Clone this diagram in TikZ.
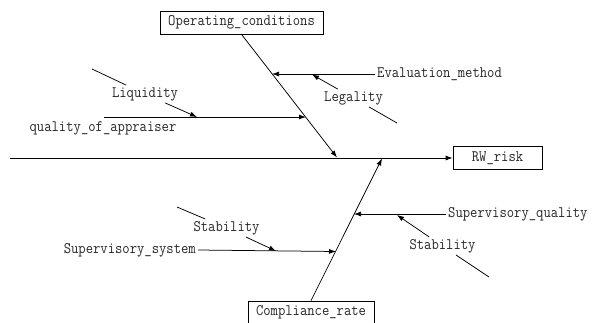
\documentclass[tikz,border=0pt]{standalone}
\usepackage{fontspec}
\setmonofont[FakeStretch=0.89]{Latin Modern Mono}
\usetikzlibrary{arrows.meta,calc}
\begin{document}
\begin{tikzpicture}[x=1pt,y=-1pt,
  every node/.style={font=\ttfamily\fontsize{16pt}{18pt}\selectfont, text=black!85},
  bone/.style={line width=0.75pt, draw=black},
  arr/.style={bone, -{Latex[length=7pt,width=5pt]}},
  cbox/.style={draw, line width=0.75pt, minimum height=23pt, inner sep=0pt},
  lbl/.style={inner sep=2pt},
]
\useasboundingbox (0,0) rectangle (604,322);
% boxes
\node[cbox, minimum width=163pt] (op) at (241.5,22.5) {Operating\_conditions};
\node[cbox, minimum width=126pt] (cr) at (311,312.5) {Compliance\_rate};
\node[cbox, minimum width=89pt] (rw) at (497.5,158) {RW\_risk};
% spine
\coordinate (s0) at (10,158);
\draw[arr] (s0) -- (rw.west);
% diagonals
\coordinate (t1) at (337,157.5);
\coordinate (t2) at (382,158.5);
\draw[arr] (op.south) -- (t1);
\draw[arr] (cr.north) -- (t2);
% upper branches
\node[lbl, anchor=west] (ev) at (375,74) {Evaluation\_method};
\coordinate (evt) at (272,74);
\draw[arr] (ev.west) -- (evt);
\coordinate (q0) at (104,117);
\coordinate (qt) at (306,117);
\draw[arr] (q0) -- (qt);
\node[lbl] (qa) at (103,128) {quality\_of\_appraiser};
% Liquidity
\coordinate (li0) at (92,69);
\coordinate (lit) at (197,117);
\node[lbl] (li) at (145,94) {Liquidity};
\draw[bone] (li0) -- (li);
\draw[arr] (li) -- (lit);
% Legality
\coordinate (le0) at (397,123);
\coordinate (let) at (312,74.5);
\node[lbl] (le) at (353.5,98) {Legality};
\draw[bone] (le0) -- (le);
\draw[arr] (le) -- (let);
% lower branches
\node[lbl, anchor=west] (sq) at (446,214) {Supervisory\_quality};
\coordinate (sqt) at (354,214);
\draw[arr] (sq.west) -- (sqt);
\node[lbl, anchor=east] (ss) at (198,250) {Supervisory\_system};
\coordinate (sst) at (336,251.5);
\draw[arr] (ss.east) -- (sst);
% Stability left
\coordinate (sl0) at (177,207);
\coordinate (slt) at (276,251);
\node[lbl] (sl) at (226.5,228) {Stability};
\draw[bone] (sl0) -- (sl);
\draw[arr] (sl) -- (slt);
% Stability right
\coordinate (sr0) at (489,277);
\coordinate (srt) at (397,215);
\node[lbl] (sr) at (442.5,246) {Stability};
\draw[bone] (sr0) -- (sr);
\draw[arr] (sr) -- (srt);
\end{tikzpicture}
\end{document}
